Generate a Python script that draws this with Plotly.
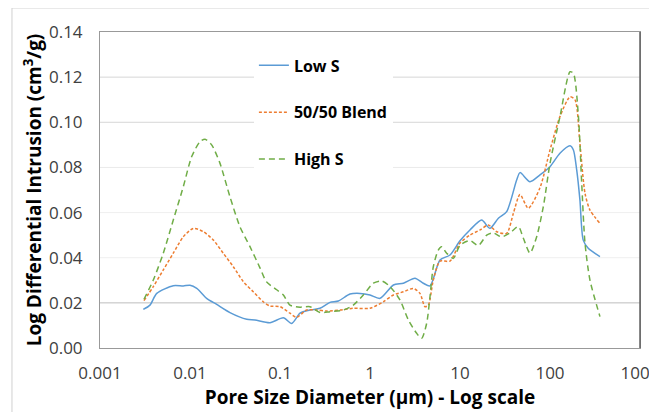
import plotly.graph_objects as go

# Low S
low_x = [0.00303, 0.00359, 0.00427, 0.00652, 0.00843, 0.01, 0.0119, 0.0153, 0.0198, 0.0278,
         0.0427, 0.0527, 0.0774, 0.109, 0.135, 0.167, 0.215, 0.278, 0.359, 0.445, 0.599, 0.774,
         1.0, 1.29, 1.82, 2.35, 3.16, 3.91, 4.64, 5.99, 7.74, 10.0, 12.9, 17.4, 21.5, 26.7, 33.0,
         42.6, 46.4, 59.9, 77.4, 100.0, 129.0, 167.0, 182.0, 198.0, 215.0, 234.0, 266.0, 359.0]
low_y = [0.0171, 0.0190, 0.0242, 0.0276, 0.0275, 0.0278, 0.0264, 0.0220, 0.0193, 0.0157,
         0.0127, 0.0124, 0.0112, 0.0134, 0.0109, 0.0154, 0.0168, 0.0176, 0.0202, 0.0208, 0.0239, 0.0242,
         0.0235, 0.0220, 0.0279, 0.0287, 0.0309, 0.0287, 0.0275, 0.0390, 0.0412, 0.0475, 0.0523, 0.0567, 0.0530, 0.0575, 0.0604,
         0.0744, 0.0777, 0.0737, 0.0767, 0.0803, 0.0863, 0.0896, 0.0877, 0.0789, 0.0656, 0.0478, 0.0442, 0.0405]

# 50/50 Blend
mid_x = [0.00308, 0.00391, 0.00505, 0.00652, 0.00843, 0.0109, 0.0141, 0.0182, 0.0234, 0.0303,
         0.0391, 0.0505, 0.0652, 0.0774, 0.1, 0.129, 0.153, 0.198, 0.256, 0.330, 0.464, 0.652,
         1.0, 1.41, 1.82, 2.35, 3.03, 3.59, 4.08, 4.45, 5.05, 5.99, 7.74, 10.0, 12.9, 16.7, 20.6,
         25.6, 33.0, 39.2, 46.4, 57.4, 77.4, 100.0, 129.0, 167.0, 190.0, 215.0, 245.0, 278.0, 359.0]
mid_y = [0.0210, 0.0272, 0.0346, 0.0420, 0.0493, 0.0530, 0.0515, 0.0478, 0.0420, 0.0360,
         0.0294, 0.0249, 0.0205, 0.0186, 0.0183, 0.0154, 0.0136, 0.0168, 0.0168, 0.0164, 0.0168, 0.0176,
         0.0176, 0.0205, 0.0235, 0.0249, 0.0264, 0.0242, 0.0183, 0.0190, 0.0301, 0.0385, 0.0385, 0.0465, 0.0500, 0.0523, 0.0545,
         0.0515, 0.0508, 0.0597, 0.0680, 0.0619, 0.0710, 0.0877, 0.1025, 0.1113, 0.1099, 0.0907, 0.0685, 0.0611, 0.0552]

# High S
high_x = [0.00308, 0.00391, 0.00505, 0.00652, 0.00843, 0.01045, 0.0129, 0.0147, 0.0174, 0.0215,
          0.0278, 0.0359, 0.0464, 0.0599, 0.0705, 0.0918, 0.109, 0.129, 0.167, 0.215, 0.278, 0.359,
          0.505, 0.652, 0.843, 1.09, 1.35, 1.67, 2.15, 2.67, 3.30, 3.75, 4.26, 4.64, 5.05, 5.74,
          6.25, 7.11, 8.43, 10.0, 12.9, 16.0, 19.8, 23.4, 29.0, 36.0, 44.5, 50.6, 59.9, 71.1,
          84.3, 100.0, 129.0, 167.0, 182.0, 207.0, 225.0, 245.0, 278.0, 359.0]
high_y = [0.0216, 0.0301, 0.0420, 0.0567, 0.0715, 0.0848, 0.0914, 0.0925, 0.0900, 0.0819,
          0.0670, 0.0537, 0.0449, 0.0355, 0.0294, 0.0258, 0.0235, 0.0190, 0.0181, 0.0183, 0.0157, 0.0161,
          0.0168, 0.0190, 0.0235, 0.0287, 0.0297, 0.0272, 0.0213, 0.0124, 0.0065, 0.0043, 0.0109, 0.0227, 0.0360, 0.0434,
          0.0449, 0.0420, 0.0397, 0.0455, 0.0476, 0.0454, 0.0500, 0.0510, 0.0492, 0.0510, 0.0538, 0.0486, 0.0420, 0.0493,
          0.0626, 0.0818, 0.1025, 0.1224, 0.1217, 0.1025, 0.0730, 0.0464, 0.0301, 0.0139]

x_ticks = [0.001, 0.01, 0.1, 1, 10, 100, 1000]
x_tick_labels = ["0.001", "0.01", "0.1", "1", "10", "100", "1000"]
y_grid = [0.02, 0.04, 0.06, 0.08, 0.10, 0.12]
y_grid_colors = ["#BDBDBD", "#EFEFEF", "#EFEFEF", "#EAEAEA", "#D6D6D6", "#D6D6D6"]

FONT = "Open Sans"

fig = go.Figure()
fig.add_trace(go.Scatter(x=low_x, y=low_y, mode="lines", name="Low S", legendgroup="a",
                         line=dict(color="#5B9BD5", width=1.5, shape="spline", smoothing=0.7)))
fig.add_trace(go.Scatter(x=mid_x, y=mid_y, mode="lines", name="50/50 Blend", legendgroup="b",
                         line=dict(color="#ED7D31", width=1.5, shape="spline", smoothing=0.7, dash="3px,2px")))
fig.add_trace(go.Scatter(x=high_x, y=high_y, mode="lines", name="High S", legendgroup="c",
                         line=dict(color="#70AD47", width=1.5, shape="spline", smoothing=0.7, dash="6px,4px")))

# page has an 8px body margin, so the figure is 8px smaller and margins shifted
fig.update_layout(
    width=649, height=404,
    margin=dict(l=92, r=17, t=24, b=64, autoexpand=False),
    paper_bgcolor="white", plot_bgcolor="white",
    font=dict(family=FONT, color="#404040"),
    showlegend=True,
    legend=dict(x=0.285, y=0.948, xanchor="left", yanchor="top", bgcolor="white",
                traceorder="grouped", tracegroupgap=23,
                font=dict(family=FONT, size=16, color="black", weight="bold"),
                itemwidth=30),
    xaxis=dict(type="log", range=[-3, 3], tickvals=x_ticks, ticktext=x_tick_labels,
               showgrid=False, zeroline=False, showline=True, linecolor="#999999", mirror=True,
               ticks="", tickfont=dict(size=17, color="#404040"), automargin=False,
               ticklabelstandoff=10, ticklabeloverflow="allow",
               title=dict(text="Pore Size Diameter (μm) - Log scale", standoff=6,
                          font=dict(size=19, color="black", weight="bold"))),
    yaxis=dict(range=[0, 0.14], dtick=0.02, tickformat=".2f",
               showgrid=False, zeroline=False, automargin=False,
               showline=True, linecolor="#999999", mirror=True, ticks="",
               tickfont=dict(size=17, color="#404040"), ticklabelstandoff=13,
               title=dict(text="Log Differential Intrusion (cm<sup>3</sup>/g)", standoff=2,
                          font=dict(size=19, color="black", weight="bold"))),
)

for gv, gc in zip(y_grid, y_grid_colors):
    fig.add_shape(type="line", xref="paper", yref="y", x0=0, x1=1, y0=gv, y1=gv,
                  line=dict(color=gc, width=1), layer="below")

# darker right edge of plot area
fig.add_shape(type="line", xref="paper", yref="paper", x0=1, x1=1, y0=0, y1=1,
              line=dict(color="#606060", width=1.5), layer="above")

# outer chart-area border
fig.add_shape(type="rect", xref="paper", yref="paper", x0=-0.163, x1=1.06, y0=-0.25, y1=1.076,
              line=dict(color="#D0D0D0", width=1), layer="below")

fig.write_html("out.html")
